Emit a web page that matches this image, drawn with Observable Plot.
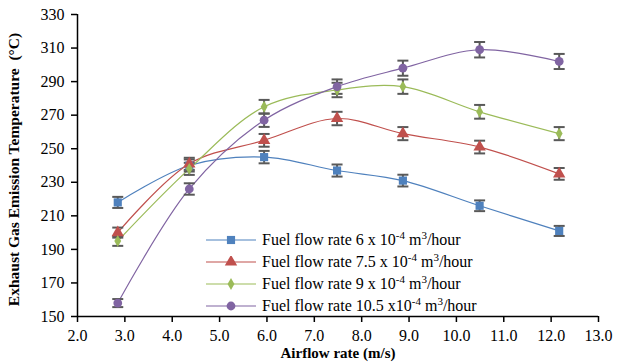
<!DOCTYPE html>
<html>
<head>
<meta charset="utf-8">
<script src="https://cdn.jsdelivr.net/npm/d3@7"></script>
<script src="https://cdn.jsdelivr.net/npm/@observablehq/plot@0.6"></script>
<style>
  html, body { margin: 0; padding: 0; background: #fff; }
  #wrap { position: relative; width: 624px; height: 363px; }
  #wrap svg text { font-family: "Liberation Serif", "DejaVu Serif", serif; }
  #legend { position: absolute; left: 205px; top: 229px; font-family: "Liberation Serif", "DejaVu Serif", serif; font-size: 16px; color: #000; }
  .row { display: flex; align-items: center; height: 22px; white-space: nowrap; }
  .row svg { margin-right: 5px; }
  sup { font-size: 11px; vertical-align: 6px; line-height: 0; }
</style>
</head>
<body>
<div id="wrap"><div id="legend"></div></div>
<script>
// ---- data ----
const airflow = [2.85, 4.36, 5.94, 7.48, 8.87, 10.49, 12.17];
const seriesNames = ["6", "7.5", "9", "10.5"];
const fuel6   = [218, 240, 245, 237, 231, 216, 201];
const fuel75  = [200, 241, 255, 268, 259, 251, 235];
const fuel9   = [195, 238, 275, 285, 287, 272, 259];
const fuel105 = [158, 226, 267, 287, 298, 309, 302];
const err6   = [3.3, 3.6, 3.7, 3.6, 3.5, 3.2, 3.0];
const err75  = [3.0, 3.6, 3.8, 4.0, 3.9, 3.8, 3.5];
const err9   = [2.9, 3.6, 4.1, 4.3, 4.3, 4.1, 3.9];
const err105 = [2.4, 3.4, 4.0, 4.3, 4.5, 4.6, 4.5];
const xTicks = [2, 3, 4, 5, 6, 7, 8, 9, 10, 11, 12, 13];
const yTicks = [150, 170, 190, 210, 230, 250, 270, 290, 310, 330];
const colors = ["#4F81BD", "#C0504D", "#9BBB59", "#8064A2"];
const symbols = ["square", "triangle", "diamond", "circle"];
const sizes = [4.6, 4.6, 3.6, 4.4];

const values = [fuel6, fuel75, fuel9, fuel105];
const errs = [err6, err75, err9, err105];
const data = [];
values.forEach((arr, s) => arr.forEach((v, i) => data.push({
  s, x: airflow[i], y: v, lo: v - errs[s][i], hi: v + errs[s][i]
})));

const capSymbol = {
  draw(ctx, size) { const r = 5.5; ctx.moveTo(-r, 0); ctx.lineTo(r, 0); }
};

const marks = [
  Plot.axisX({ticks: xTicks, tickFormat: d => d.toFixed(1), tickSize: 6, tickPadding: 7, fontSize: 16, label: null, strokeWidth: 1.5}),
  Plot.axisY({ticks: yTicks, tickSize: 6, tickPadding: 7, fontSize: 16, label: null, strokeWidth: 1.5}),
  Plot.ruleY([150], {stroke: "#000", strokeWidth: 1.5}),
  Plot.ruleX([2], {stroke: "#000", strokeWidth: 1.5}),
];
values.forEach((arr, s) => {
  const d = data.filter(p => p.s === s);
  marks.push(Plot.line(d, {x: "x", y: "y", stroke: colors[s], strokeWidth: 1.2, curve: "catmull-rom"}));
});
values.forEach((arr, s) => {
  const d = data.filter(p => p.s === s);
  marks.push(Plot.ruleX(d, {x: "x", y1: "lo", y2: "hi", stroke: "#595959", strokeWidth: 2}));
  marks.push(Plot.dot(d, {x: "x", y: "lo", symbol: capSymbol, stroke: "#595959", strokeWidth: 2, r: 3}));
  marks.push(Plot.dot(d, {x: "x", y: "hi", symbol: capSymbol, stroke: "#595959", strokeWidth: 2, r: 3}));
});
values.forEach((arr, s) => {
  const d = data.filter(p => p.s === s);
  marks.push(Plot.dot(d, {x: "x", y: "y", symbol: symbols[s], fill: colors[s], stroke: "none", r: sizes[s]}));
});
marks.push(Plot.text(["Airflow rate (m/s)"], {frameAnchor: "bottom", dy: 41, fontWeight: "bold", fontSize: 15}));
marks.push(Plot.text(["Exhaust Gas Emission Temperature  (°C)"], {frameAnchor: "left", dx: -63, dy: 4, rotate: -90, textAnchor: "middle", fontWeight: "bold", fontSize: 15.5}));

const chart = Plot.plot({
  width: 624, height: 363,
  marginLeft: 77, marginRight: 26, marginTop: 14, marginBottom: 47,
  style: {fontFamily: "'Liberation Serif', 'DejaVu Serif', serif", fontSize: "16px", color: "#000", background: "#fff"},
  x: {domain: [2, 13]},
  y: {domain: [150, 330]},
  marks
});
document.getElementById("wrap").prepend(chart);

// ---- legend ----
const legend = d3.select("#legend");
seriesNames.forEach((name, s) => {
  const row = legend.append("div").attr("class", "row");
  const sv = row.append("svg").attr("width", 52).attr("height", 12);
  sv.append("line").attr("x1", 1).attr("x2", 51).attr("y1", 6).attr("y2", 6).attr("stroke", colors[s]).attr("stroke-width", 1.2);
  sv.append("path").attr("transform", "translate(26,6)")
    .attr("d", d3.symbol(d3["symbol" + symbols[s][0].toUpperCase() + symbols[s].slice(1)], Math.PI * sizes[s] * sizes[s])())
    .attr("fill", colors[s]);
  const sep = s === 3 ? " x" : " x ";
  row.append("span").html(`Fuel flow rate ${name}${sep}10<sup>-4</sup> m<sup>3</sup>/hour`);
});
</script>
</body>
</html>
